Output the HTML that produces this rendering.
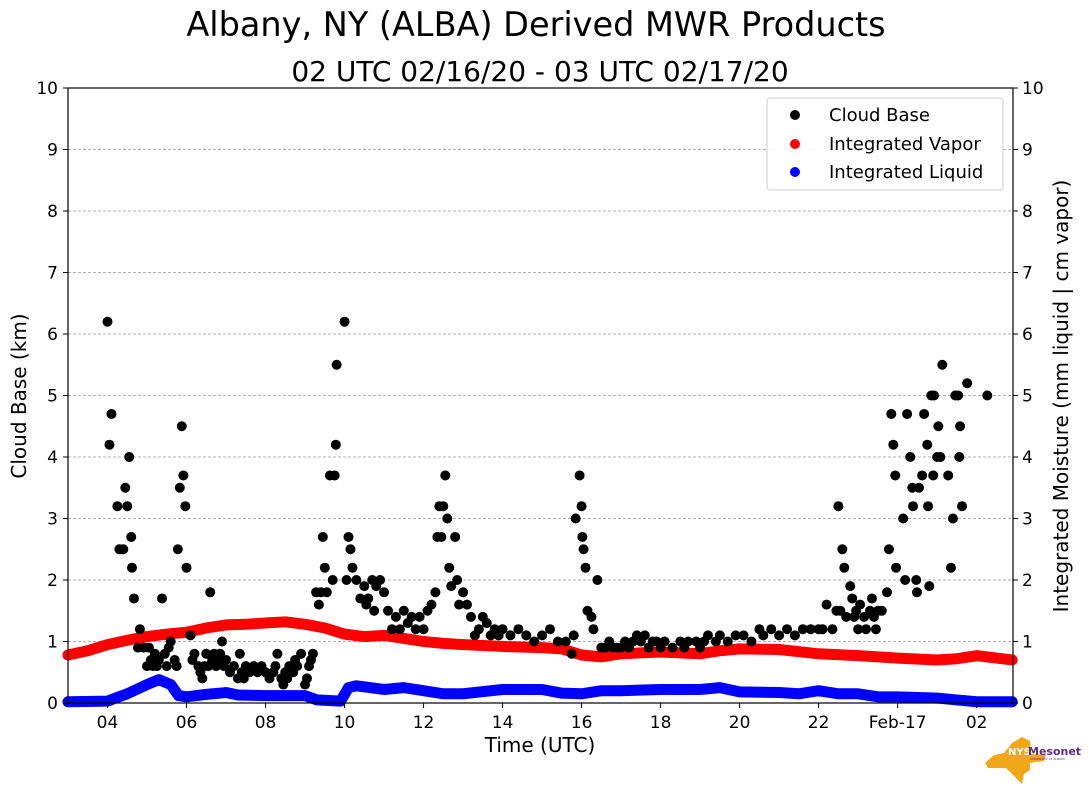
<!DOCTYPE html>
<html><head><meta charset="utf-8"><style>
body{margin:0;background:#fff;font-family:"Liberation Sans","DejaVu Sans",sans-serif}
svg text{font-family:"DejaVu Sans","Liberation Sans",sans-serif}
</style></head><body>
<svg id="c" width="1089" height="804" xmlns="http://www.w3.org/2000/svg">
<text x="536" y="36" font-size="33.5" text-anchor="middle">Albany, NY (ALBA) Derived MWR Products</text>
<text x="540" y="81" font-size="28" text-anchor="middle">02 UTC 02/16/20 - 03 UTC 02/17/20</text>
<g id="grid"></g><g id="series"></g><g id="axes"></g>
<rect x="68" y="88" width="945" height="615" fill="none" stroke="#000" stroke-width="1.2"/>
<text transform="translate(26,396) rotate(-90)" font-size="20" text-anchor="middle">Cloud Base (km)</text>
<text transform="translate(1068,396) rotate(-90)" font-size="20" text-anchor="middle">Integrated Moisture (mm liquid | cm vapor)</text>
<text x="540" y="752" font-size="20" text-anchor="middle">Time (UTC)</text>
<g>
<rect x="767" y="98" width="236" height="92" rx="3" fill="#fff" fill-opacity="0.9" stroke="#ccc"/>
<circle cx="795" cy="115" r="5" fill="#000"/><text x="829" y="121" font-size="18">Cloud Base</text>
<circle cx="795" cy="144" r="5" fill="red"/><text x="829" y="150" font-size="18">Integrated Vapor</text>
<circle cx="795" cy="172" r="5" fill="blue"/><text x="829" y="178" font-size="18">Integrated Liquid</text>
</g>
<g>
<path d="M1012 743 L1022 737 L1030 741 L1031 754 L1046 755 L1044 761 L1030 763 L1030 770 L1024 774 L1022 784 L1016 778 L1006 768 L988 768 L985 763 L994 755 L1004 753 Z" fill="#f0a818"/>
<text x="1008" y="755" font-size="10" fill="#fff" font-weight="bold">NYS</text>
<text x="1028" y="755" font-size="11" fill="#5b2d82" font-weight="bold">Mesonet</text>
<text x="1030" y="760" font-size="3" fill="#5b2d82">UNIVERSITY AT ALBANY</text>
</g>
</svg>
<script>
const xTickLabels=["04","06","08","10","12","14","16","18","20","22","Feb-17","02"];
const xTickHours=[4,6,8,10,12,14,16,18,20,22,24,26];
const yTicks=[0,1,2,3,4,5,6,7,8,9,10];
// cloud base observations: [hour UTC (24+ = next day), km]
const cloudBase=[
[4.0,6.2],[4.05,4.2],[4.1,4.7],[4.25,3.2],[4.3,2.5],[4.4,2.5],[4.45,3.5],[4.5,3.2],[4.55,4.0],[4.6,2.7],[4.62,2.2],[4.67,1.7],[4.77,0.9],[4.82,1.2],[4.92,0.9],
[5.0,0.6],[5.05,0.9],[5.1,0.7],[5.15,0.6],[5.2,0.8],[5.25,0.6],[5.3,0.7],[5.38,1.7],[5.45,0.8],[5.5,0.6],[5.55,0.9],[5.6,1.0],[5.7,0.7],[5.75,0.6],
[5.78,2.5],[5.83,3.5],[5.88,4.5],[5.92,3.7],[5.97,3.2],[6.0,2.2],[6.1,1.1],[6.15,0.7],[6.2,0.8],[6.3,0.6],[6.35,0.5],[6.4,0.4],[6.45,0.6],[6.5,0.8],
[6.55,0.6],[6.6,1.8],[6.65,0.7],[6.7,0.8],[6.75,0.6],[6.8,0.7],[6.85,0.8],[6.9,1.0],[6.95,0.6],[7.0,0.7],[7.1,0.5],[7.2,0.6],[7.3,0.4],[7.35,0.8],
[7.4,0.5],[7.45,0.4],[7.5,0.6],[7.6,0.5],[7.7,0.6],[7.8,0.5],[7.9,0.6],[8.0,0.5],[8.1,0.4],[8.2,0.5],[8.25,0.6],[8.3,0.8],[8.4,0.4],[8.45,0.3],
[8.5,0.5],[8.55,0.4],[8.6,0.6],[8.7,0.5],[8.75,0.7],[8.8,0.6],[8.9,0.8],[9.0,0.3],[9.05,0.4],[9.1,0.6],[9.15,0.7],[9.2,0.8],
[9.28,1.8],[9.35,1.6],[9.4,1.8],[9.45,2.7],[9.5,2.2],[9.55,1.8],[9.63,3.7],[9.7,2.0],[9.75,3.7],[9.78,4.2],[9.8,5.5],[10.0,6.2],
[10.05,2.0],[10.1,2.7],[10.15,2.5],[10.2,2.2],[10.3,2.0],[10.4,1.7],[10.5,1.9],[10.55,1.6],[10.6,1.7],[10.7,2.0],[10.75,1.5],[10.8,1.9],[10.9,2.0],
[11.0,1.8],[11.1,1.5],[11.2,1.2],[11.3,1.4],[11.4,1.2],[11.5,1.5],[11.6,1.3],[11.7,1.4],[11.8,1.2],[11.9,1.4],[12.0,1.2],[12.1,1.5],[12.2,1.6],
[12.3,1.8],[12.35,2.7],[12.4,3.2],[12.45,2.7],[12.5,3.2],[12.55,3.7],[12.6,3.0],[12.65,2.2],[12.7,1.9],[12.8,2.7],[12.85,2.0],[12.9,1.6],
[13.0,1.8],[13.1,1.6],[13.2,1.4],[13.3,1.1],[13.4,1.2],[13.5,1.4],[13.6,1.3],[13.7,1.1],[13.8,1.2],[13.9,1.1],[14.0,1.2],[14.2,1.1],[14.4,1.2],
[14.6,1.1],[14.8,1.0],[15.0,1.1],[15.2,1.2],[15.4,1.0],[15.6,1.0],[15.75,0.8],[15.8,1.1],[15.85,3.0],[15.95,3.7],[16.0,3.2],[16.02,2.7],
[16.05,2.5],[16.1,2.2],[16.15,1.5],[16.25,1.4],[16.4,2.0],[16.3,1.2],[16.5,0.9],[16.6,0.9],[16.7,1.0],[16.8,0.9],[16.9,0.9],[17.0,0.9],
[17.1,1.0],[17.2,0.9],[17.3,1.0],[17.4,1.1],[17.5,1.0],[17.6,1.1],[17.7,0.9],[17.8,1.0],[17.9,1.0],[18.0,0.9],[18.1,1.0],[18.3,0.9],[18.5,1.0],
[18.6,0.9],[18.7,1.0],[18.9,1.0],[19.0,0.9],[19.1,1.0],[19.2,1.1],[19.4,1.0],[19.5,1.1],[19.7,1.0],[19.9,1.1],[20.1,1.1],[20.3,1.0],[20.5,1.2],
[20.6,1.1],[20.8,1.2],[21.0,1.1],[21.2,1.2],[21.4,1.1],[21.6,1.2],[21.8,1.2],[22.0,1.2],[22.1,1.2],[22.2,1.6],[22.35,1.2],[22.45,1.5],[22.5,3.2],
[22.55,1.5],[22.6,2.5],[22.65,2.2],[22.7,1.4],[22.8,1.9],[22.85,1.7],[22.9,1.4],[22.95,1.5],[23.0,1.2],[23.05,1.6],[23.15,1.4],[23.2,1.2],
[23.3,1.5],[23.35,1.7],[23.4,1.4],[23.45,1.2],[23.5,1.5],[23.6,1.5],[23.73,1.8],[23.78,2.5],[23.84,4.7],[23.89,4.2],[23.94,3.7],[23.96,2.2],
[24.14,3.0],[24.19,2.0],[24.24,4.7],[24.32,4.0],[24.37,3.5],[24.39,3.2],[24.47,2.0],[24.49,1.8],[24.54,3.5],[24.62,3.7],[24.67,4.7],[24.75,4.2],
[24.77,3.2],[24.8,1.9],[24.85,5.0],[24.9,3.7],[24.92,5.0],[25.0,4.0],[25.03,4.5],[25.08,4.0],[25.13,5.5],[25.28,3.7],[25.35,2.2],[25.4,3.0],
[25.46,5.0],[25.53,5.0],[25.56,4.0],[25.58,4.5],[25.63,3.2],[25.76,5.2],[26.27,5.0]];
const vapTime=[3,3.5,4,4.5,5,5.5,6,6.5,7,7.5,8,8.5,9,9.5,10,10.5,11,11.5,12,12.5,13,14,15,15.5,16,16.5,17,18,19,19.5,20,21,22,23,24,25,25.5,26,26.9];
const vapVal=[0.78,0.85,0.95,1.02,1.08,1.12,1.15,1.22,1.27,1.28,1.3,1.32,1.28,1.22,1.12,1.08,1.1,1.05,1.0,0.97,0.95,0.92,0.9,0.88,0.78,0.75,0.8,0.83,0.8,0.85,0.88,0.87,0.8,0.77,0.73,0.7,0.72,0.77,0.7];
const liqTime=[3,4,4.2,4.5,5,5.3,5.6,5.8,6,6.5,7,7.3,8,9,9.3,9.9,10.1,10.3,11,11.5,12,12.5,13,14,15,15.5,16,16.5,17,18,19,19.5,20,21,21.5,22,22.5,23,23.5,24,25,25.5,26,26.9];
const liqVal=[0.02,0.03,0.08,0.15,0.3,0.38,0.3,0.12,0.1,0.14,0.17,0.13,0.12,0.12,0.05,0.03,0.25,0.28,0.22,0.25,0.2,0.15,0.15,0.22,0.22,0.16,0.15,0.2,0.2,0.22,0.22,0.25,0.18,0.17,0.15,0.2,0.15,0.15,0.1,0.1,0.08,0.05,0.02,0.02];
const NS="http://www.w3.org/2000/svg";
const X0=68,X1=1013,Y0=703,Y1=88,H0=3,H1=26.92;
const xs=h=>X0+(h-H0)/(H1-H0)*(X1-X0);
const ys=v=>Y0-v/10*(Y0-Y1);
function mk(p,t,a){const e=document.createElementNS(NS,t);for(const k in a)e.setAttribute(k,a[k]);p.appendChild(e);return e;}
const G=document.getElementById('grid'),S=document.getElementById('series'),A=document.getElementById('axes');
yTicks.forEach(v=>{
 if(v>0&&v<10){const l=mk(G,'line',{x1:X0,x2:X1,y1:ys(v),y2:ys(v),stroke:'#b0b0b0','stroke-dasharray':'3,2'});
 
 }
 mk(A,'line',{x1:X0-5,x2:X0,y1:ys(v),y2:ys(v),stroke:'#000'});
 mk(A,'line',{x1:X1,x2:X1+5,y1:ys(v),y2:ys(v),stroke:'#000'});
 const t1=mk(A,'text',{x:X0-10,y:ys(v)+6,'font-size':17,'text-anchor':'end'});t1.textContent=v;
 
 
 const t2=mk(A,'text',{x:X1+9,y:ys(v)+6,'font-size':17});t2.textContent=v;
 
 
});
xTickHours.forEach((h,i)=>{
 mk(A,'line',{x1:xs(h),x2:xs(h),y1:Y0,y2:Y0+5,stroke:'#000'});
 const t=mk(A,'text',{x:xs(h),y:Y0+25,'font-size':17,'text-anchor':'middle'});t.textContent=xTickLabels[i];
 
 
});
function line(tm,vals,col,name){
 const p=mk(S,'polyline',{points:tm.map((h,i)=>xs(h)+','+ys(vals[i])).join(' '),fill:'none',stroke:col,'stroke-width':11,'stroke-linecap':'round','stroke-linejoin':'round'});
 
 
}
line(vapTime,vapVal,'red','integrated-vapor-series');
line(liqTime,liqVal,'blue','integrated-liquid-series');
cloudBase.forEach(d=>{
 const c=mk(S,'circle',{cx:xs(d[0]),cy:ys(d[1]),r:5,fill:'#000'});
 
 
});
</script>
</body></html>
